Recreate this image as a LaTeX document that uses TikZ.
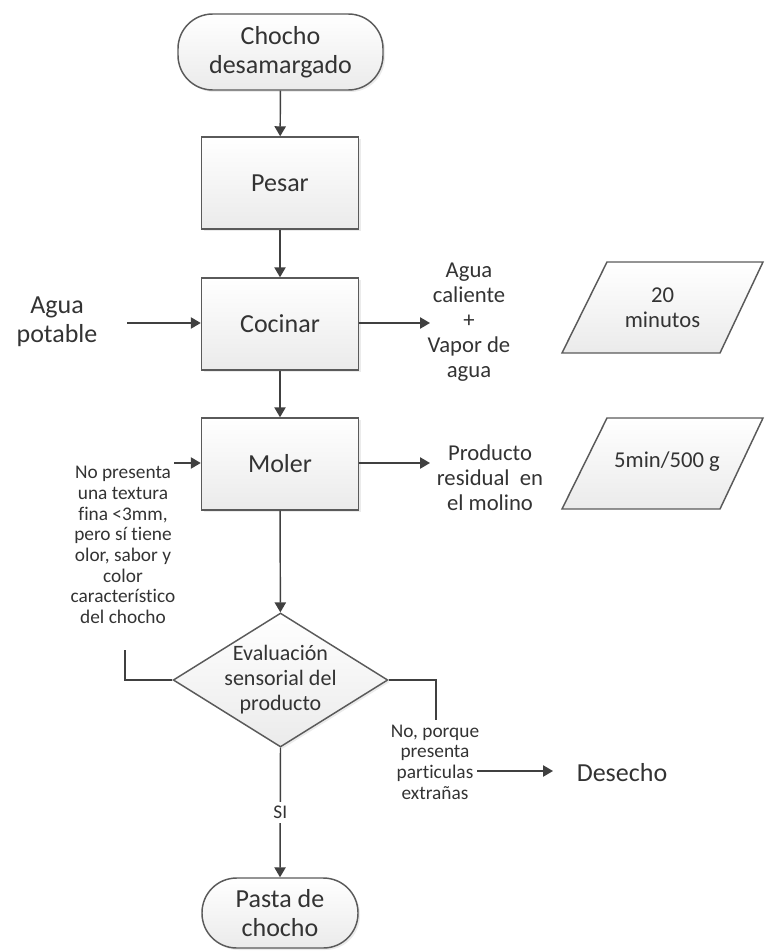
\documentclass[tikz,border=0pt]{standalone}
\usepackage{fontspec}
\setmainfont[Ligatures=NoCommon]{Carlito}
\usetikzlibrary{arrows.meta,shapes.geometric,shadows}
\definecolor{ink}{HTML}{333333}
\definecolor{edge}{HTML}{5A5A5A}
\definecolor{wire}{HTML}{404040}
\begin{document}
\begin{tikzpicture}[x=0.75pt,y=-0.75pt,
  every node/.style={text=ink, align=center, inner sep=0pt},
  boxfill/.style={draw=edge, line width=1.1pt, top color=white, bottom color=black!8,
    drop shadow={opacity=0.16, shadow xshift=1.5pt, shadow yshift=-1.5pt}},
  bigtext/.style={font=\fontsize{19.5}{22}\selectfont},
  midtext/.style={font=\fontsize{17}{18.75}\selectfont},
  evaltext/.style={font=\fontsize{16.5}{18.75}\selectfont},
  smalltext/.style={font=\fontsize{14.5}{15.5}\selectfont},
  process/.style={boxfill, rectangle, minimum width=117.75pt, minimum height=69pt, bigtext},
  terminal/.style={boxfill, rectangle, rounded corners=26pt, bigtext},
  decision/.style={boxfill, diamond, minimum width=161pt, minimum height=100.5pt},
  paraframe/.style={draw=edge, line width=1.1pt, top color=white, bottom color=black!8},
  arr/.style={draw=wire, line width=1.1pt, -{Triangle[length=7.5pt,width=8.5pt]}},
  wireline/.style={draw=wire, line width=1.1pt}
]
\useasboundingbox (0,0) rectangle (765,952);

% main column
\node[terminal, minimum width=153.75pt, minimum height=57pt] (start) at (280.5,52) {Chocho\\desamargado};
\node[process] (pesar) at (280,183) {Pesar};
\node[process] (cocinar) at (280,324) {Cocinar};
\node[process] (moler) at (280,464) {Moler};
\node[decision] (eval) at (280.5,680) {};
\node[evaltext] (evaltxt) at (eval.center) {Evaluación\\sensorial del\\producto};
\node[terminal, minimum width=117pt, minimum height=52.5pt] (fin) at (280,913) {Pasta de\\chocho};

% inputs and outputs
\node[bigtext] (agua) at (57,322) {Agua\\potable};
\node[midtext] (vapor) at (469,322) {Agua\\caliente\\+\\Vapor de\\agua};
\node[midtext] (resid) at (490,478) {Producto\\residual\ \ en\\el molino};

% time notes in parallelograms
\path[paraframe] (562,353) -- (720,353) -- (763,262) -- (607,262) -- cycle;
\node[midtext] (t20) at (662.5,308) {20\\minutos};
\path[paraframe] (562,509) -- (720,509) -- (763,418) -- (607,418) -- cycle;
\node[midtext] (t5) at (667,462) {5min/500 g};

% decision notes
\node[smalltext] (notel) at (123,545) {No presenta\\una textura\\fina <3mm,\\pero sí tiene\\olor, sabor y\\color\\característico\\del chocho};
\node[smalltext] (noter) at (435,762) {No, porque\\presenta\\particulas\\extrañas};
\node[bigtext] (desecho) at (622,773) {Desecho};

\coordinate (lstop) at (125,650);
\coordinate (lin) at (174,463);
\coordinate (rstop) at (436,720);
\coordinate (rout) at (477,771);
\coordinate (dend) at (553,771);
\coordinate (vin) at (430,323);
\coordinate (rin) at (430,463);
\coordinate (ain) at (127,323);

% connectors
\draw[arr] (start) -- (pesar);
\draw[arr] (pesar) -- (cocinar);
\draw[arr] (cocinar) -- (moler);
\draw[arr] (moler) -- (eval);
\draw[arr] (eval.south) -- node[fill=white, inner ysep=3pt, smalltext] (si) {SI} (fin.north);
\draw[arr] (ain) -- (cocinar.west |- ain);
\draw[arr] (cocinar.east |- vin) -- (vin);
\draw[arr] (moler.east |- rin) -- (rin);
\draw[wireline] (eval.west) -| (lstop);
\draw[arr] (lin) -- (moler.west |- lin);
\draw[wireline] (eval.east) -| (rstop);
\draw[arr] (rout) -- (dend);
\end{tikzpicture}
\end{document}
